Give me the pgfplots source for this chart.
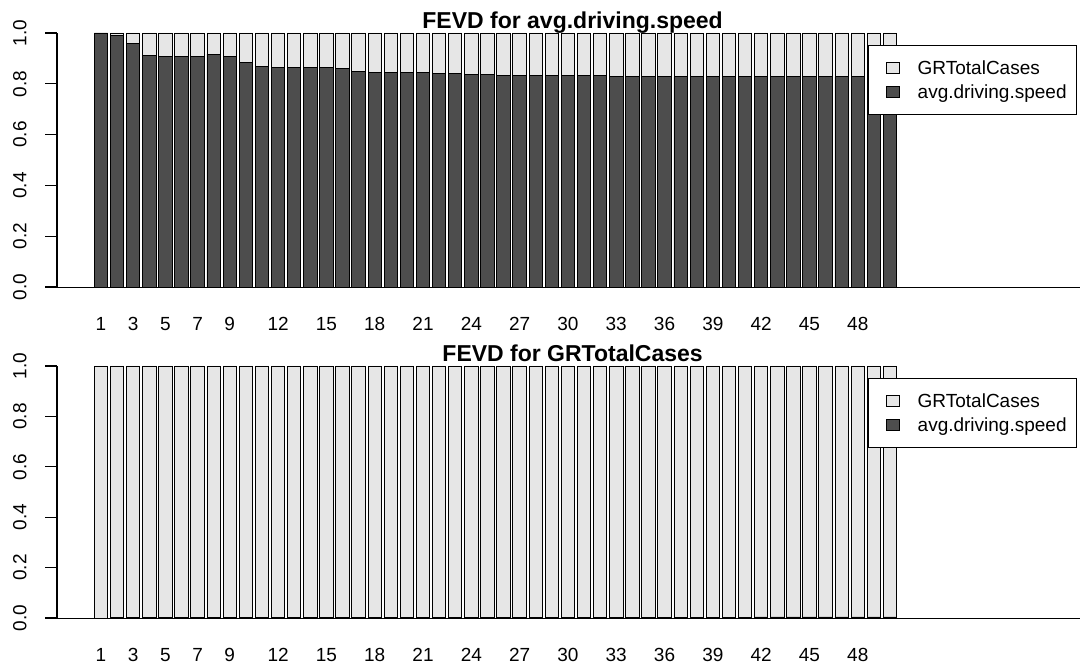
\documentclass[border=0pt]{standalone}
\usepackage{fontspec}
\setmainfont{Liberation Sans}
\usepackage{pgfplots}
\usepackage{pgfplotstable}
\pgfplotsset{compat=1.18}
\definecolor{dk}{HTML}{4D4D4D}
\definecolor{lt}{HTML}{E6E6E6}

\pgfplotstableread{
h dark light
1 1.000 0.000
2 0.990 0.010
3 0.957 0.043
4 0.913 0.087
5 0.908 0.092
6 0.908 0.092
7 0.908 0.092
8 0.917 0.083
9 0.908 0.092
10 0.885 0.115
11 0.870 0.130
12 0.865 0.135
13 0.865 0.135
14 0.866 0.134
15 0.865 0.135
16 0.860 0.140
17 0.850 0.150
18 0.845 0.155
19 0.845 0.155
20 0.845 0.155
21 0.845 0.155
22 0.840 0.160
23 0.840 0.160
24 0.835 0.165
25 0.835 0.165
26 0.832 0.168
27 0.832 0.168
28 0.832 0.168
29 0.832 0.168
30 0.832 0.168
31 0.832 0.168
32 0.832 0.168
33 0.827 0.173
34 0.827 0.173
35 0.827 0.173
36 0.827 0.173
37 0.827 0.173
38 0.827 0.173
39 0.827 0.173
40 0.827 0.173
41 0.827 0.173
42 0.827 0.173
43 0.827 0.173
44 0.827 0.173
45 0.827 0.173
46 0.827 0.173
47 0.827 0.173
48 0.827 0.173
49 0.827 0.173
50 0.827 0.173
}\topdata

\pgfplotstableread{
h dark light
1 0.000 1.000
2 0.001 0.999
3 0.001 0.999
4 0.001 0.999
5 0.001 0.999
6 0.001 0.999
7 0.001 0.999
8 0.001 0.999
9 0.001 0.999
10 0.001 0.999
11 0.001 0.999
12 0.001 0.999
13 0.001 0.999
14 0.001 0.999
15 0.001 0.999
16 0.001 0.999
17 0.001 0.999
18 0.001 0.999
19 0.001 0.999
20 0.001 0.999
21 0.001 0.999
22 0.001 0.999
23 0.001 0.999
24 0.001 0.999
25 0.001 0.999
26 0.001 0.999
27 0.001 0.999
28 0.001 0.999
29 0.001 0.999
30 0.001 0.999
31 0.001 0.999
32 0.001 0.999
33 0.001 0.999
34 0.001 0.999
35 0.001 0.999
36 0.001 0.999
37 0.001 0.999
38 0.001 0.999
39 0.001 0.999
40 0.001 0.999
41 0.002 0.998
42 0.004 0.996
43 0.004 0.996
44 0.004 0.996
45 0.004 0.996
46 0.004 0.996
47 0.004 0.996
48 0.004 0.996
49 0.004 0.996
50 0.004 0.996
}\botdata

\pgfplotsset{
  fevd/.style={
    scale only axis, width=1023pt,
    xmin=-1.73, xmax=61.8, ymin=0, ymax=1,
    ybar stacked, bar width=0.833,
    axis x line*=bottom, axis y line*=left,
    x axis line style={line width=0.9pt, black},
    y axis line style={line width=1.2pt, black},
    ytick={0,0.2,0.4,0.6,0.8,1},
    yticklabels={0.0,0.2,0.4,0.6,0.8,1.0},
    yticklabel style={xshift=-16pt, rotate=90, anchor=south, font=\fontsize{19}{21}\selectfont},
    xtick={1,3,5,7,9,12,15,18,21,24,27,30,33,36,39,42,45,48},
    xticklabels={1,3,5,7,9,12,15,18,21,24,27,30,33,36,39,42,45,48},
    xticklabel style={font=\fontsize{19}{21}\selectfont, yshift=-16pt},
    xtick style={draw=none},
    ytick style={draw=none},
    tick align=outside, major tick length=11pt,
    clip=false,
    after end axis/.code={
      \draw[line width=1.2pt, black] (axis cs:-1.73,0) -- (axis cs:-1.73,1);
      \foreach \v in {0,0.2,0.4,0.6,0.8,1}{
        \draw[line width=1.2pt, black] (axis cs:-1.73,\v) -- ++(-12pt,0pt);
      }
    },
    title style={at={(0.504,1)}, anchor=base, yshift=-2pt, font=\bfseries\fontsize{23}{25}\selectfont},
    reverse legend,
    legend cell align=left,
    legend style={at={(0.793,0.953)}, anchor=north west, draw=black, fill=white,
      line width=0.9pt, font=\fontsize{19}{21}\selectfont,
      inner xsep=8pt, inner ysep=13pt, row sep=5pt},
  },
  dkbar/.style={fill=dk, draw=black, line width=0.9pt,
    legend image code/.code={\path[draw=none] (0pt,0pt) (39pt,0pt);\draw[fill=dk,draw=black,line width=0.9pt] (10pt,-5.5pt) rectangle (23pt,5.5pt);}},
  ltbar/.style={fill=lt, draw=black, line width=0.9pt,
    legend image code/.code={\path[draw=none] (0pt,0pt) (39pt,0pt);\draw[fill=lt,draw=black,line width=0.9pt] (10pt,-5.5pt) rectangle (23pt,5.5pt);}},
}

\begin{document}
\begin{tikzpicture}
\path[use as bounding box] (0,0) rectangle (1082pt,664pt);
\begin{axis}[fevd, at={(57pt,377pt)}, anchor=south west, height=254pt,
  title={FEVD for avg.driving.speed}]
\addplot[dkbar] table[x=h, y=dark] {\topdata};
\addlegendentry{avg.driving.speed}
\addplot[ltbar] table[x=h, y=light] {\topdata};
\addlegendentry{GRTotalCases}
\end{axis}
\begin{axis}[fevd, at={(57pt,46pt)}, anchor=south west, height=252pt,
  title={FEVD for GRTotalCases}]
\addplot[dkbar] table[x=h, y=dark] {\botdata};
\addlegendentry{avg.driving.speed}
\addplot[ltbar] table[x=h, y=light] {\botdata};
\addlegendentry{GRTotalCases}
\end{axis}
\end{tikzpicture}
\end{document}
